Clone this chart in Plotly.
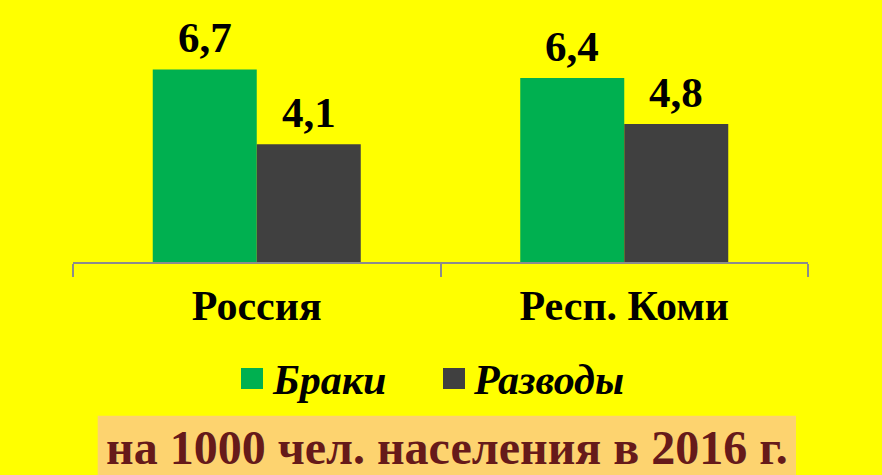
import plotly.graph_objects as go

categories = ["Россия", "Респ. Коми"]
marriages = [6.7, 6.4]
divorces = [4.1, 4.8]
series_names = ["Браки", "Разводы"]
footer_text = "на 1000 чел. населения в 2016 г."

W, H = 882, 475
L, R, T, B = 73, 74, 32, 213
PW, PH = W - L - R, H - T - B

def px(x):
    return (x - L) / PW

def py(y):
    return (H - B - y) / PH

SERIF = "Liberation Serif, Times New Roman, serif"
GREEN = "#00B050"
GRAY = "#404040"
BAR_HALF = 52  # half of a bar's pixel width, to centre value labels

fig = go.Figure()
for name, vals, col in [(series_names[0], marriages, GREEN), (series_names[1], divorces, GRAY)]:
    fig.add_trace(go.Bar(
        x=categories, y=vals, name=name, marker=dict(color=col, line=dict(width=0)),
        showlegend=False,
    ))

shapes = [
    dict(type="rect", xref="paper", yref="paper", x0=px(97.7), x1=px(796), y0=py(476), y1=py(415.7),
         fillcolor="#FDD36F", line=dict(width=0), layer="below"),
    dict(type="rect", xref="paper", yref="paper", x0=px(241), x1=px(263), y0=py(389), y1=py(368),
         fillcolor=GREEN, line=dict(width=0)),
    dict(type="rect", xref="paper", yref="paper", x0=px(443), x1=px(465), y0=py(389), y1=py(368),
         fillcolor=GRAY, line=dict(width=0)),
]

annotations = []
for series, shift in [(marriages, -BAR_HALF), (divorces, BAR_HALF)]:
    for cat, v in zip(categories, series):
        annotations.append(dict(
            x=cat, y=v, xref="x", yref="y", xshift=shift, yshift=6,
            xanchor="center", yanchor="bottom", showarrow=False,
            text="<b>%s</b>" % f"{v:.1f}".replace(".", ","),
            font=dict(family=SERIF, size=43, color="black"),
        ))

annotations += [
    dict(xref="paper", yref="paper", x=px(270), y=py(380), xanchor="left", yanchor="middle",
         text="<b><i>%s</i></b>" % series_names[0], showarrow=False,
         font=dict(family=SERIF, size=42, color="black")),
    dict(xref="paper", yref="paper", x=px(471), y=py(380), xanchor="left", yanchor="middle",
         text="<b><i>%s</i></b>" % series_names[1], showarrow=False,
         font=dict(family=SERIF, size=42, color="black")),
    dict(xref="paper", yref="paper", x=px(447), y=py(447), xanchor="center", yanchor="middle",
         text="<b>%s</b>" % footer_text, showarrow=False,
         font=dict(family=SERIF, size=48, color="#661A1A")),
]

fig.update_layout(
    width=W, height=H,
    margin=dict(l=L, r=R, t=T, b=B, pad=0),
    paper_bgcolor="#FFFF00", plot_bgcolor="#FFFF00",
    barmode="group", bargap=0.434, bargroupgap=0,
    shapes=shapes, annotations=annotations,
    xaxis=dict(
        showline=True, linecolor="#8C8C8C", linewidth=2,
        ticks="outside", tickson="boundaries", ticklen=13, tickcolor="#8C8C8C", tickwidth=2,
        tickfont=dict(family=SERIF, size=42, color="black", weight="bold"),
        ticklabelstandoff=6,
        showgrid=False, zeroline=False, fixedrange=True,
    ),
    yaxis=dict(range=[0, 8], visible=False, showgrid=False, zeroline=False, fixedrange=True),
    showlegend=False,
)

fig.write_html(
    "out.html",
    config={"displayModeBar": False},
    post_script="document.body.style.margin='0';document.body.style.overflow='hidden';",
)
